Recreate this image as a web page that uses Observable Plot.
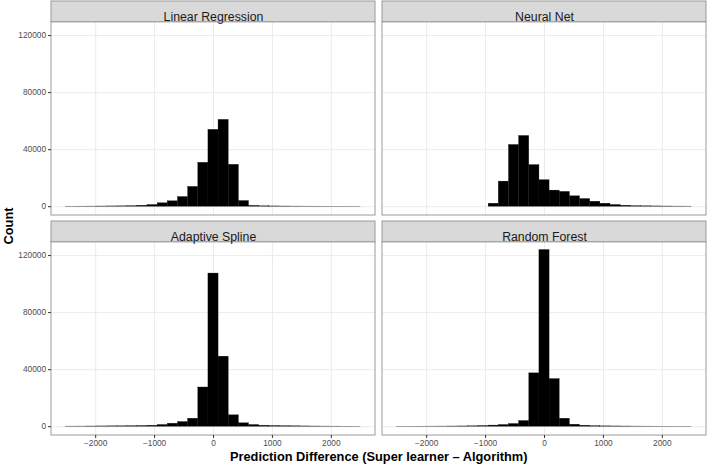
<!DOCTYPE html>
<html><head><meta charset="utf-8">
<script src="https://cdn.jsdelivr.net/npm/d3@7"></script>
<script src="https://cdn.jsdelivr.net/npm/@observablehq/plot@0.6"></script>
<style>
html,body{margin:0;padding:0;background:#fff}
#chart svg{display:block}
</style>
</head><body><div id="chart"></div>
<script>
// ---- data ----
const panels = ["Linear Regression", "Neural Net", "Adaptive Spline", "Random Forest"];
const panelCol = [0, 1, 0, 1];
const panelRow = [0, 0, 1, 1];
const binWidth = 172.4;
const binCenters = [-2414, -2241, -2069, -1897, -1724, -1552, -1379, -1207, -1034, -862, -690, -517, -345, -172,
  0, 172, 345, 517, 690, 862, 1034, 1207, 1379, 1552, 1724, 1897, 2069, 2241, 2414];
const linearRegression = [50, 70, 100, 150, 200, 250, 400, 700, 1200, 2400, 3800, 6800, 13900, 30800,
  53900, 60900, 29400, 4000, 600, 300, 200, 150, 100, 80, 60, 50, 40, 30, 20];
const neuralNet = [0, 0, 0, 0, 0, 0, 0, 0, 0, 2100, 17600, 43300, 49600, 29200,
  18600, 11300, 10400, 7300, 5400, 3500, 2100, 1200, 700, 400, 300, 200, 150, 100, 80];
const adaptiveSpline = [80, 100, 150, 200, 250, 300, 400, 500, 700, 1200, 2100, 3300, 5600, 27500,
  107400, 49100, 8000, 2400, 1200, 700, 500, 400, 300, 200, 150, 100, 80, 50, 30];
const randomForest = [30, 40, 60, 80, 100, 150, 200, 300, 500, 800, 1200, 1900, 4000, 37400,
  123900, 33400, 5600, 1400, 700, 400, 250, 200, 150, 100, 80, 60, 40, 30, 20];
const xTicks = [-2000, -1000, 0, 1000, 2000];
const yTicks = [0, 40000, 80000, 120000];
const xTitle = "Prediction Difference (Super learner \u2013 Algorithm)";
const yTitle = "Count";

// ---- scale settings (ggplot-like 5% expansion, with strip band on top) ----
const xDomain = [-2750, 2750];
const panelBottom = -6160;
const panelTop = 129360;
const stripTop = 143890;

const series = [linearRegression, neuralNet, adaptiveSpline, randomForest];
const rows = [];
panels.forEach((name, i) => series[i].forEach((count, j) =>
  rows.push({panel: name, col: panelCol[i], row: panelRow[i], x: binCenters[j], count})));
const strips = panels.map((name, i) => ({panel: name, col: panelCol[i], row: panelRow[i]}));

const fmt = d => d < 0 ? "\u2212" + Math.abs(d) : String(d);

const plot = Plot.plot({
  width: 709,
  height: 464,
  marginTop: 1,
  marginRight: 2.3,
  marginBottom: 29,
  marginLeft: 50.7,
  style: {fontFamily: "'Liberation Sans', Arial, Helvetica, sans-serif", background: "#fff"},
  fx: {domain: [0, 1], axis: null, paddingInner: 0.0199, paddingOuter: 0},
  fy: {domain: [0, 1], axis: null, paddingInner: 0.029, paddingOuter: 0},
  x: {domain: xDomain},
  y: {domain: [panelBottom, stripTop]},
  marks: [
    Plot.gridX(xTicks, {stroke: "#EBEBEB", strokeOpacity: 1, strokeWidth: 1}),
    Plot.gridY(yTicks, {stroke: "#EBEBEB", strokeOpacity: 1, strokeWidth: 1}),
    Plot.rectY(rows, {
      fx: "col", fy: "row",
      x1: d => d.x - binWidth / 2, x2: d => d.x + binWidth / 2,
      y: "count", fill: "black", stroke: "#111", strokeWidth: 0.3
    }),
    Plot.rect(strips, {
      fx: "col", fy: "row",
      x1: () => xDomain[0], x2: () => xDomain[1], y1: () => panelBottom, y2: () => panelTop,
      fill: "none", stroke: "#9a9a9a", strokeWidth: 1
    }),
    Plot.rect(strips, {
      fx: "col", fy: "row",
      x1: () => xDomain[0], x2: () => xDomain[1], y1: () => panelTop, y2: () => stripTop,
      fill: "#D9D9D9", stroke: "#9a9a9a", strokeWidth: 1
    }),
    Plot.text(strips, {
      fx: "col", fy: "row", text: "panel", frameAnchor: "top", dy: 10.8,
      fontSize: 12.3, fill: "#1A1A1A"
    }),
    Plot.axisX(xTicks, {
      anchor: "bottom", tickSize: 3, tickPadding: 2, fontSize: 8.3, label: null,
      stroke: "#333", fill: "#4D4D4D", tickFormat: fmt
    }),
    Plot.axisY(yTicks, {
      anchor: "left", tickSize: 3, tickPadding: 2.5, fontSize: 8.3, label: null,
      stroke: "#333", fill: "#4D4D4D", tickFormat: fmt
    })
  ]
});

const svg = d3.select(plot);
svg.append("text")
  .attr("transform", "translate(12.8,226) rotate(-90)")
  .attr("text-anchor", "middle")
  .attr("font-size", 12.8).attr("font-weight", "bold").attr("fill", "#000")
  .text(yTitle);
svg.append("text")
  .attr("x", 378.7).attr("y", 460.8)
  .attr("text-anchor", "middle")
  .attr("font-size", 12.8).attr("font-weight", "bold").attr("fill", "#000")
  .text(xTitle);

document.getElementById("chart").append(plot);
</script>
</body></html>
